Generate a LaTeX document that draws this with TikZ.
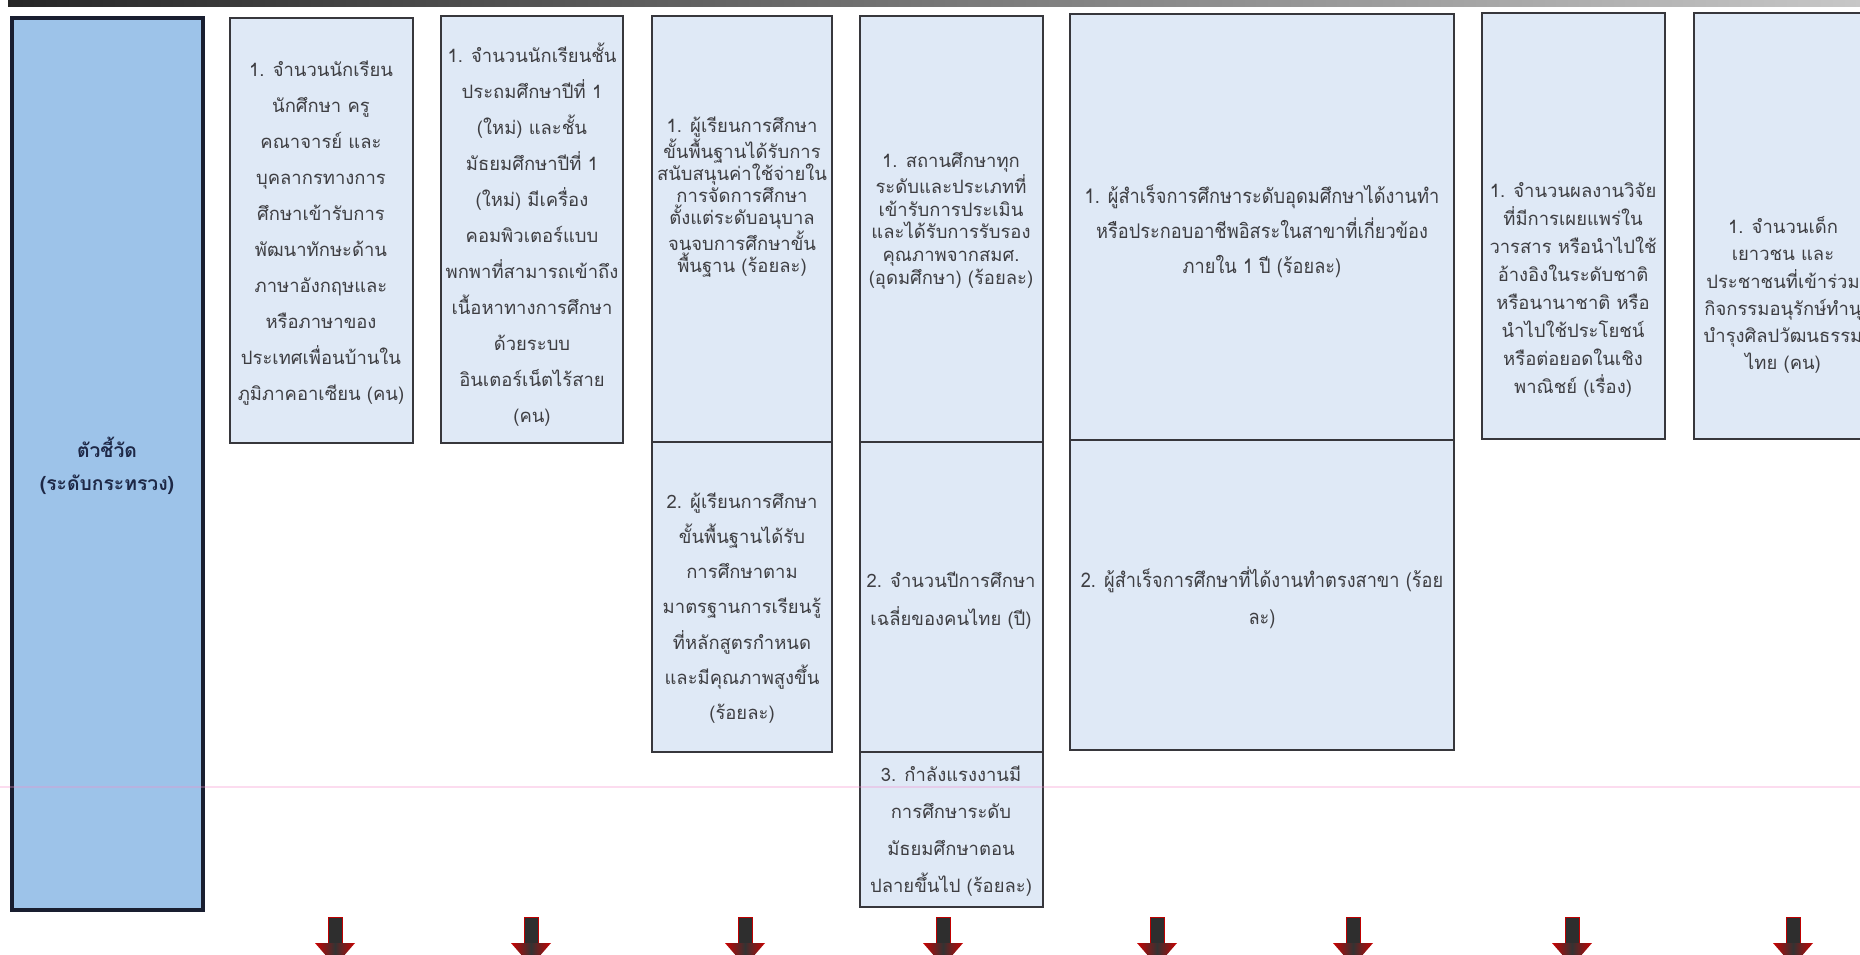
\documentclass[tikz,border=0pt]{standalone}
\usepackage{fontspec}
\usepackage{xcolor}
\usepackage{tikz}
\newfontfamily\thaifont[Script=Thai]{Loma}
\newfontfamily\thaicond[Script=Thai,FakeStretch=0.9]{Loma}
\definecolor{cellfill}{RGB}{223,233,246}
\definecolor{headfill}{RGB}{157,195,233}
\definecolor{cellline}{RGB}{55,55,60}
\definecolor{headline}{RGB}{25,30,48}
\definecolor{textgray}{RGB}{62,62,66}
\definecolor{headtextcol}{RGB}{30,40,70}

\begin{document}
\begin{tikzpicture}[x=0.02cm, y=-0.02cm,
    cellbox/.style={fill=cellfill, draw=cellline, line width=1.1pt},
    headbox/.style={fill=headfill, draw=headline, line width=2.2pt},
    celltext/.style={align=center, text=textgray, inner sep=0pt, font={\thaifont\fontsize{10.5}{#1}\selectfont}},
    celltext/.default=20,
    condtext/.style={align=center, text=textgray, inner sep=0pt, font={\thaicond\fontsize{11.5}{#1}\selectfont}},
    headtext/.style={align=center, text=headtextcol, inner sep=0pt, font={\thaifont\bfseries\fontsize{11}{18.5}\selectfont}},
    arrowshaft/.style={fill=black!82, draw=red!75!black, line width=0.5pt}]

    % 1. page frame and top rule
    \useasboundingbox (0,0) rectangle (1860,955);
    \clip (0,0) rectangle (1860,955);
    \fill[white] (0,0) rectangle (1860,955);
    \shade[left color=black!85, right color=black!22] (8,1) rectangle (1860,7);

    % 2. header column
    \draw[headbox] (12,18) rectangle (203,910);
    \node[headtext] (hdr) at (107,466) {ตัวชี้วัด\\(ระดับกระทรวง)};

    % 3. single boxes
    \draw[cellbox] (230,18) rectangle (413,443);
    \draw[cellbox] (441,16) rectangle (623,443);
    \draw[cellbox] (1482,13) rectangle (1665,439);
    \draw[cellbox] (1694,13) rectangle (1877,439);

    % 4. stacked boxes
    \draw[cellbox] (652,16) rectangle (832,442);
    \draw[cellbox] (652,442) rectangle (832,752);
    \draw[cellbox] (860,16) rectangle (1043,442);
    \draw[cellbox] (860,442) rectangle (1043,752);
    \draw[cellbox] (860,752) rectangle (1043,907);
    \draw[cellbox] (1070,14) rectangle (1454,440);
    \draw[cellbox] (1070,440) rectangle (1454,750);

    % 5. indicator texts
    \node[celltext=20.5] (ind1) at (321,233) {1. จำนวนนักเรียน\\นักศึกษา ครู\\คณาจารย์ และ\\บุคลากรทางการ\\ศึกษาเข้ารับการ\\พัฒนาทักษะด้าน\\ภาษาอังกฤษและ\\หรือภาษาของ\\ประเทศเพื่อนบ้านใน\\ภูมิภาคอาเซียน (คน)};
    \node[celltext=20.5] (ind2) at (532,235) {1. จำนวนนักเรียนชั้น\\ประถมศึกษาปีที่ 1\\(ใหม่) และชั้น\\มัธยมศึกษาปีที่ 1\\(ใหม่) มีเครื่อง\\คอมพิวเตอร์แบบ\\พกพาที่สามารถเข้าถึง\\เนื้อหาทางการศึกษา\\ด้วยระบบ\\อินเตอร์เน็ตไร้สาย\\(คน)};
    \node[celltext=12.5] (ind3a) at (742,197) {1. ผู้เรียนการศึกษา\\ขั้นพื้นฐานได้รับการ\\สนับสนุนค่าใช้จ่ายใน\\การจัดการศึกษา\\ตั้งแต่ระดับอนุบาล\\จนจบการศึกษาขั้น\\พื้นฐาน (ร้อยละ)};
    \node[celltext=20] (ind3b) at (742,608) {2. ผู้เรียนการศึกษา\\ขั้นพื้นฐานได้รับ\\การศึกษาตาม\\มาตรฐานการเรียนรู้\\ที่หลักสูตรกำหนด\\และมีคุณภาพสูงขึ้น\\(ร้อยละ)};
    \node[celltext=13] (ind4a) at (951,221) {1. สถานศึกษาทุก\\ระดับและประเภทที่\\เข้ารับการประเมิน\\และได้รับการรับรอง\\คุณภาพจากสมศ.\\(อุดมศึกษา) (ร้อยละ)};
    \node[celltext=21.5] (ind4b) at (951,601) {2. จำนวนปีการศึกษา\\เฉลี่ยของคนไทย (ปี)};
    \node[celltext=21] (ind4c) at (951,831) {3. กำลังแรงงานมี\\การศึกษาระดับ\\มัธยมศึกษาตอน\\ปลายขึ้นไป (ร้อยละ)};
    \node[condtext=20] (ind5a) at (1262,231) {1. ผู้สำเร็จการศึกษาระดับอุดมศึกษาได้งานทำ\\หรือประกอบอาชีพอิสระในสาขาที่เกี่ยวข้อง\\ภายใน 1 ปี (ร้อยละ)};
    \node[condtext=21] (ind5b) at (1262,598) {2. ผู้สำเร็จการศึกษาที่ได้งานทำตรงสาขา (ร้อย\\ละ)};
    \node[celltext=16] (ind6) at (1573,290) {1. จำนวนผลงานวิจัย\\ที่มีการเผยแพร่ใน\\วารสาร หรือนำไปใช้\\อ้างอิงในระดับชาติ\\หรือนานาชาติ หรือ\\นำไปใช้ประโยชน์\\หรือต่อยอดในเชิง\\พาณิชย์ (เรื่อง)};
    \node[celltext=15.4] (ind7) at (1783,295) {1. จำนวนเด็ก\\เยาวชน และ\\ประชาชนที่เข้าร่วม\\กิจกรรมอนุรักษ์ทำนุ\\บำรุงศิลปวัฒนธรรม\\ไทย (คน)};

    % 6. faint scan line
    \draw[magenta!45, opacity=0.3, line width=0.9pt] (0,787) -- (1860,787);

    % 7. down arrows
    \foreach \ax in {335,531,745,943,1157,1353,1572,1793} {
        \filldraw[arrowshaft] (\ax-7,917) rectangle (\ax+7,944);
        \shade[left color=red!80!black, right color=red!80!black, middle color=black!80] (\ax-20,943) -- (\ax+20,943) -- (\ax,966) -- cycle;
    }

\end{tikzpicture}
\end{document}
